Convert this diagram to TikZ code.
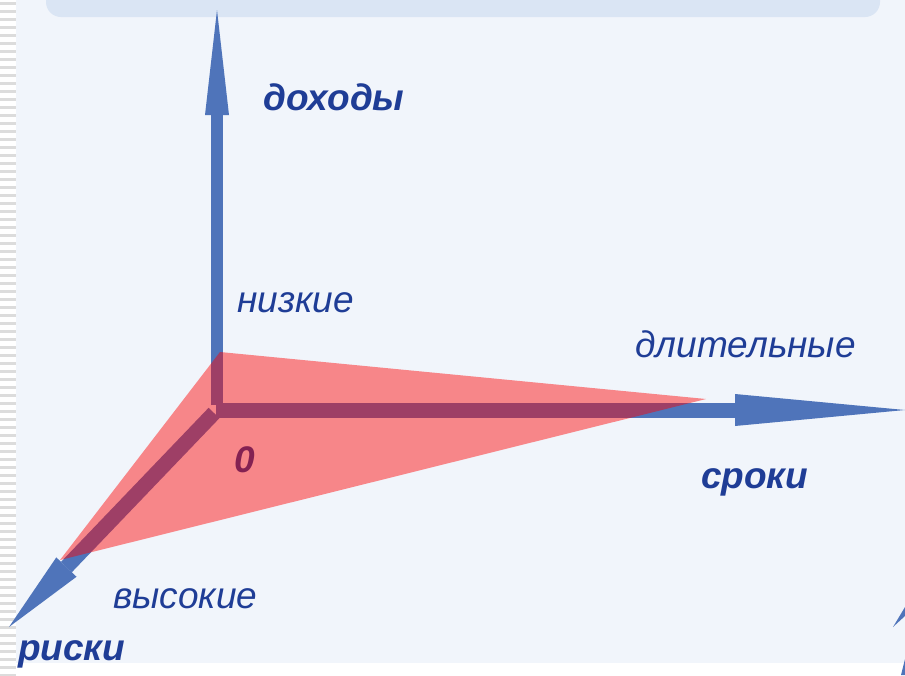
\documentclass[tikz,border=0pt]{standalone}
\usepackage{fontspec}
\setmainfont{Liberation Sans}
\usepackage{tikz}
\usetikzlibrary{
    arrows.meta
}
\usepackage{xcolor}
\definecolor{axisblue}{HTML}{4F74BA}
\definecolor{textblue}{HTML}{1F3D96}
\definecolor{panelbg}{HTML}{F1F5FB}
\definecolor{headerbg}{HTML}{DAE5F4}
\definecolor{stripegray}{HTML}{DCDCDC}

\begin{document}
\begin{tikzpicture}[
        x=1pt, y=-1pt,
        axis/.style={
            draw=axisblue,
            line width=#1
        },
        axislabel/.style={
            anchor=base west,
            inner sep=0pt,
            text=textblue,
            font=\fontsize{37}{40}\selectfont\itshape
        },
        axisname/.style={
            axislabel,
            font=\fontsize{37}{40}\selectfont\bfseries\itshape
        }
    ]
        \useasboundingbox (0,0) rectangle (905,675);
        \clip (0,0) rectangle (905,675);
        % background
        \fill[white] (0,0) rectangle (905,675);
        \fill[panelbg] (16,0) rectangle (905,663);
        \fill[headerbg, rounded corners=15pt] (46,-30) rectangle (880,17);
        \foreach \y in {2,10,...,674}
            \fill[stripegray] (0,\y) rectangle (16,\y+2.5);

        \coordinate (O) at (216,410);
        \coordinate (Ybot) at (217,405);
        \coordinate (Ytop) at (217,10);
        \coordinate (Xend) at (905,410);
        \coordinate (Zbeg) at (214,413);
        \coordinate (Zend) at (9,627);

        % axes
        \draw[axis=12pt, -{Triangle[length=105pt,width=24pt,line width=0pt]}] (Ybot) -- (Ytop);
        \draw[axis=15pt, -{Triangle[length=170pt,width=32pt,line width=0pt]}] (O) -- (Xend);
        \draw[axis=15pt, -{Triangle[length=83pt,width=28pt,line width=0pt]}] (Zbeg) -- (Zend);
        \fill[axisblue] (893,627) -- (905,607) -- (905,616) -- cycle;
        \fill[axisblue] (901,675) -- (905,659) -- (905,675) -- cycle;

        \node[axisname] (zero) at (234,472) {0};

        % plane
        \coordinate (Ptop) at (220,352);
        \coordinate (Pright) at (706,399);
        \coordinate (Pleft) at (60,560);
        \fill[red, fill opacity=0.45] (Ptop) -- (Pright) -- (Pleft) -- cycle;

        % labels
        \node[axisname] (income) at (263,110) {доходы};
        \node[axislabel] (low) at (237,312) {низкие};
        \node[axislabel] (long) at (635,357) {длительные};
        \node[axisname] (terms) at (701,488) {сроки};
        \node[axislabel] (high) at (113,608) {высокие};
        \node[axisname] (risks) at (18,660) {риски};
    \end{tikzpicture}
\end{document}
